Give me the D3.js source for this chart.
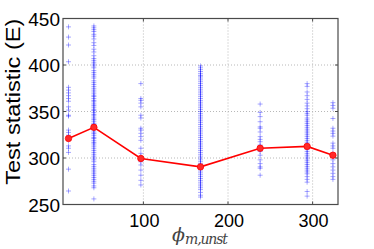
<!DOCTYPE html>
<html>
<head>
<meta charset="utf-8">
<script src="https://cdn.jsdelivr.net/npm/d3@7/dist/d3.min.js"></script>
<style>
  body { margin: 0; background: #fff; }
  svg { display: block; }
</style>
</head>
<body>
<div id="chart"></div>
<script>
// column positions (phi) and mean of each column
const xPos = [11.5, 41.5, 97, 167.5, 238, 293.5, 324];
const means = [321, 333, 299.5, 290.5, 310.5, 312.5, 303];

// individual test statistic values per column
const col1 = [441, 430, 421.5, 403.5, 376, 373, 370, 367, 364, 361, 355, 351.5, 346, 345, 330, 327.5, 324.5, 319, 313, 310.5, 306, 288, 264.5];
const col2 = [442, 440, 438, 436, 433, 431, 428, 424, 421, 417, 414, 410, 407, 405, 403, 401, 399, 397, 394, 392, 390, 388, 386, 383, 381, 379, 377, 375,
              373, 371, 369, 367, 366, 364, 362, 361, 359, 357, 356, 354, 352, 351, 349, 347, 346, 344, 342, 341, 339, 337, 336, 334, 332, 331,
              329, 327, 326, 324, 322, 321, 319, 317, 316, 314, 312, 310, 308, 306, 304, 302, 300, 298, 296, 293, 291, 289, 287, 285, 283, 281,
              279, 277, 275, 273, 270, 268, 256];
const col3 = [380, 364, 362, 359, 355, 346, 343, 332, 330, 326.5, 323, 319, 310.5, 305, 301.5, 298.5, 296, 292.5, 287, 281.5, 276, 271];
const col4 = [399, 397, 395, 393, 391, 389, 388, 386, 384, 382, 380, 378, 376, 374, 372, 370, 368, 366, 364, 362, 360, 358, 356, 354, 352, 350,
              348, 346, 344, 342, 340, 338, 336, 334, 332, 330, 328, 326, 324, 322, 320, 318, 316, 314, 312, 310, 308, 306, 304, 302, 300,
              298, 296, 294, 292, 290, 288, 286, 284, 282, 280, 278, 276, 274, 272, 270, 268, 266, 263, 260, 258];
const col5 = [358, 349, 344.5, 339, 333.5, 332, 328, 323, 320, 317.5, 314, 312, 309.5, 307, 303, 298, 294, 290.5, 289, 281.5];
const col6 = [380, 377, 371, 367, 363, 359, 356, 353, 350, 348, 346, 343, 341, 339, 337, 335, 333, 331, 329, 327, 325, 323, 321, 319, 317,
              315, 313, 311, 309, 307, 305, 303, 301, 299, 297, 295, 293, 291, 289, 287, 285, 283, 280, 277, 274, 264, 259];
const col7 = [359.5, 356.5, 353.5, 342.5, 332, 329, 326.5, 323.5, 316, 313, 310.5, 305, 301.5, 298, 294, 290.5, 287, 283.5, 280, 277];
const columns = [col1, col2, col3, col4, col5, col6, col7];

const xTicks = [100, 200, 300];
const yTicks = [250, 300, 350, 400, 450];

const width = 374, height = 249;
const mLeft = 63, mTop = 18.5, mRight = 338, mBottom = 204.5;

const x = d3.scaleLinear().domain([5, 330]).range([mLeft, mRight]);
const y = d3.scaleLinear().domain([250, 450]).range([mBottom, mTop]);

const svg = d3.select("#chart").append("svg")
    .attr("width", width)
    .attr("height", height);

// dotted grid
svg.append("g").selectAll("line")
    .data(xTicks)
    .enter().append("line")
    .attr("x1", d => x(d)).attr("x2", d => x(d))
    .attr("y1", mTop).attr("y2", mBottom)
    .style("stroke", "#b8b8b8")
    .style("stroke-width", 1)
    .style("stroke-dasharray", "1,2");

svg.append("g").selectAll("line")
    .data(yTicks.slice(1, -1))
    .enter().append("line")
    .attr("x1", mLeft).attr("x2", mRight)
    .attr("y1", d => y(d)).attr("y2", d => y(d))
    .style("stroke", "#b8b8b8")
    .style("stroke-width", 1)
    .style("stroke-dasharray", "1,2");

// blue crosses
const pts = [];
columns.forEach((c, i) => c.forEach(v => pts.push([xPos[i], v])));

svg.append("g").selectAll("path")
    .data(pts)
    .enter().append("path")
    .attr("d", d => "M" + (x(d[0]) - 2.5) + "," + y(d[1]) + "h5M" + x(d[0]) + "," + (y(d[1]) - 2.5) + "v5")
    .style("stroke", "#0000ff")
    .style("stroke-opacity", 0.38)
    .style("stroke-width", 0.9)
    .style("fill", "none");

// mean line
const line = d3.line()
    .x((d, i) => x(xPos[i]))
    .y(d => y(d));

svg.append("path")
    .datum(means)
    .attr("d", line)
    .style("fill", "none")
    .style("stroke", "#ff0000")
    .style("stroke-width", 1.6);

svg.append("g").selectAll("circle")
    .data(means)
    .enter().append("circle")
    .attr("cx", (d, i) => x(xPos[i]))
    .attr("cy", d => y(d))
    .attr("r", 3.2)
    .style("fill", "#ff2a2a")
    .style("stroke", "#ff0000")
    .style("stroke-width", 0.8);

// axes box with inner ticks
const axisColor = "#4a4a4a";
const ax = svg.append("g");
ax.append("rect")
    .attr("x", mLeft).attr("y", mTop)
    .attr("width", mRight - mLeft).attr("height", mBottom - mTop)
    .style("fill", "none")
    .style("stroke", axisColor)
    .style("stroke-width", 1.2);

xTicks.forEach(t => {
    ax.append("line").attr("x1", x(t)).attr("x2", x(t)).attr("y1", mBottom).attr("y2", mBottom - 3)
      .style("stroke", axisColor);
    ax.append("line").attr("x1", x(t)).attr("x2", x(t)).attr("y1", mTop).attr("y2", mTop + 3)
      .style("stroke", axisColor);
});
yTicks.forEach(t => {
    ax.append("line").attr("x1", mLeft).attr("x2", mLeft + 3).attr("y1", y(t)).attr("y2", y(t))
      .style("stroke", axisColor);
    ax.append("line").attr("x1", mRight).attr("x2", mRight - 3).attr("y1", y(t)).attr("y2", y(t))
      .style("stroke", axisColor);
});

// tick labels
svg.append("g").selectAll("text")
    .data(yTicks)
    .enter().append("text")
    .attr("x", mLeft - 3)
    .attr("y", d => y(d) + 7)
    .attr("text-anchor", "end")
    .style("font-family", "'Liberation Sans', Arial, sans-serif")
    .style("font-size", "19px")
    .text(d => d);

svg.append("g").selectAll("text")
    .data(xTicks)
    .enter().append("text")
    .attr("x", d => x(d) + 1)
    .attr("y", 227)
    .attr("text-anchor", "middle")
    .style("font-family", "'Liberation Sans', Arial, sans-serif")
    .style("font-size", "18px")
    .text(d => d);

// axis labels
svg.append("text")
    .attr("transform", "translate(19.5," + ((mTop + 185) / 2) + ") rotate(-90)")
    .attr("text-anchor", "middle")
    .attr("textLength", 166)
    .attr("lengthAdjust", "spacingAndGlyphs")
    .style("font-family", "'Liberation Sans', Arial, sans-serif")
    .style("font-size", "20px")
    .text("Test statistic (E)");

const xl = svg.append("text")
    .attr("x", 200)
    .attr("y", 241)
    .attr("text-anchor", "middle")
    .style("font-family", "'DejaVu Serif', serif")
    .style("font-style", "italic")
    .style("fill", "#444");
xl.append("tspan").style("font-size", "19px").text("\u03D5");
xl.append("tspan").attr("dy", 3).style("font-size", "14px").attr("textLength", 43).text("m,unst");
</script>
</body>
</html>
